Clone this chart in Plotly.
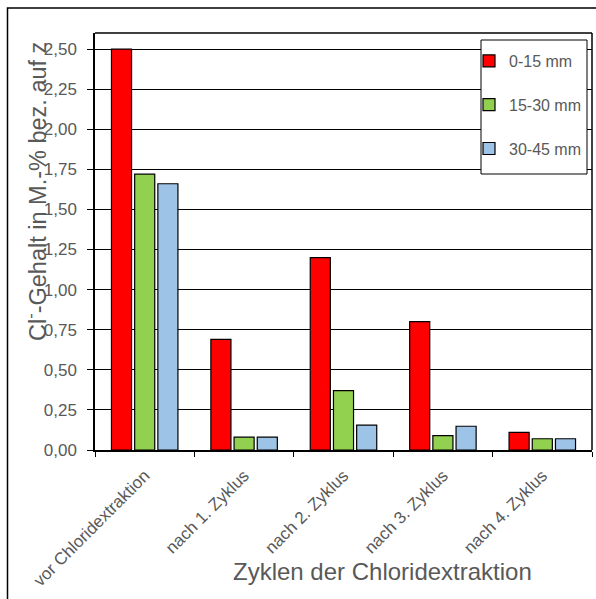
import plotly.graph_objects as go

categories = ["vor Chloridextraktion", "nach 1. Zyklus", "nach 2. Zyklus", "nach 3. Zyklus", "nach 4. Zyklus"]
series_names = ["0-15 mm", "15-30 mm", "30-45 mm"]
vals_0_15 = [2.50, 0.69, 1.20, 0.80, 0.11]
vals_15_30 = [1.72, 0.08, 0.37, 0.09, 0.07]
vals_30_45 = [1.66, 0.08, 0.155, 0.148, 0.07]
colors = ["#FF0000", "#92D050", "#9DC3E6"]
y_ticks = [0, 0.25, 0.5, 0.75, 1.0, 1.25, 1.5, 1.75, 2.0, 2.25, 2.5]

W, H = 596, 599
L, R, T, B = 95, 4, 33, 149
pw, ph = W - L - R, H - T - B

def px2paper_x(x):
    return (x - L) / pw

def px2paper_y(y):
    return (H - B - y) / ph

fig = go.Figure()
for i, (name, vals) in enumerate(zip(series_names, [vals_0_15, vals_15_30, vals_30_45])):
    fig.add_trace(go.Bar(
        x=categories, y=vals, name=name, legendgroup=name,
        marker=dict(color=colors[i], line=dict(color="#000000", width=1.2)),
    ))

gray = "#595959"
fig.update_layout(
    width=W, height=H,
    margin=dict(l=L, r=R, t=T, b=B),
    paper_bgcolor="white", plot_bgcolor="white",
    separators=",.",
    barmode="group", bargap=0.3, bargroupgap=0.134,
    font=dict(family="Liberation Sans, Arial, sans-serif", color=gray, size=17),
    showlegend=True,
    legend=dict(
        x=px2paper_x(469), y=px2paper_y(44), xanchor="left", yanchor="top",
        bgcolor="rgba(0,0,0,0)", borderwidth=0,
        font=dict(size=16, color=gray), tracegroupgap=20,
    ),
    xaxis=dict(
        showline=True, linecolor="#000000", linewidth=2,
        ticks="outside", tickson="boundaries", ticklen=5, tickcolor="#000000",
        tickangle=-45, tickfont=dict(size=17, color=gray),
        ticklabelstandoff=7,
        mirror=False, showgrid=False,
    ),
    yaxis=dict(
        range=[0, 2.6], tickvals=y_ticks, tickformat=".2f",
        showline=True, linecolor="#000000", linewidth=1.5,
        ticks="outside", ticklen=6, tickcolor="#000000",
        ticklabelstandoff=7,
        showgrid=True, gridcolor="#000000", gridwidth=1.2,
        tickfont=dict(size=17, color=gray), zeroline=False,
    ),
    shapes=[
        dict(type="line", xref="paper", yref="paper", x0=0, x1=1, y0=1, y1=1,
             line=dict(color="#000000", width=1.5)),
        dict(type="line", xref="paper", yref="paper", x0=1, x1=1, y0=0, y1=1,
             line=dict(color="#000000", width=1.5)),
        dict(type="rect", xref="paper", yref="paper",
             x0=px2paper_x(7.5), x1=px2paper_x(605), y0=px2paper_y(610), y1=px2paper_y(8),
             line=dict(color="#000000", width=1.5), fillcolor="rgba(0,0,0,0)", layer="below"),
        dict(type="rect", xref="paper", yref="paper",
             x0=px2paper_x(481), x1=px2paper_x(587), y0=px2paper_y(174), y1=px2paper_y(40),
             line=dict(color="#000000", width=1), fillcolor="white", layer="above"),
    ],
    annotations=[
        dict(text="Cl<sup>-</sup>-Gehalt in M.-% bez. auf z", xref="paper", yref="paper",
             x=px2paper_x(36), y=px2paper_y(192), textangle=-90, showarrow=False,
             font=dict(size=23.5, color=gray), xanchor="center", yanchor="middle"),
        dict(text="Zyklen der Chloridextraktion", xref="paper", yref="paper",
             x=px2paper_x(382), y=px2paper_y(571), showarrow=False,
             font=dict(size=24, color=gray), xanchor="center", yanchor="middle"),
    ],
)

fig.write_html("out.html", config={"displayModeBar": False},
               post_script="document.body.style.margin='0px';")
